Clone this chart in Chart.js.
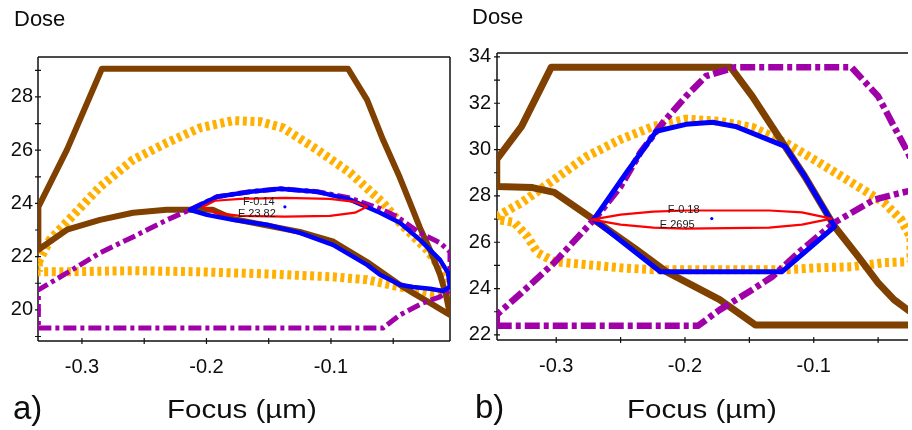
<!DOCTYPE html>
<html>
<head>
<meta charset="utf-8">
<script src="https://cdn.jsdelivr.net/npm/chart.js@4.4.1/dist/chart.umd.min.js"></script>
<style>
  html, body { margin: 0; padding: 0; background: #fff; width: 912px; height: 430px; overflow: hidden; position: relative; }
  canvas { position: absolute; top: 0; }
  .t { position: absolute; font-family: "Liberation Sans", Arial, sans-serif; color: #0e0e0e; white-space: nowrap; }
</style>
</head>
<body>
<canvas id="ca" width="460" height="430" style="left:0px;width:460px;height:430px"></canvas>
<canvas id="cb" width="457" height="430" style="left:455px;width:457px;height:430px"></canvas>
<div class="t" style="left:14px;top:8px;font-size:22px;line-height:22px">Dose</div>
<div class="t" style="left:472px;top:6px;font-size:22px;line-height:22px">Dose</div>
<div class="t" style="left:13px;top:391px;font-size:33px;line-height:33px">a)</div>
<div class="t" style="left:475px;top:390px;font-size:33px;line-height:33px">b)</div>
<div class="t" style="left:167px;top:397px;font-size:25px;line-height:25px;transform:scaleX(1.18);transform-origin:0 0">Focus (µm)</div>
<div class="t" style="left:627px;top:397px;font-size:25px;line-height:25px;transform:scaleX(1.18);transform-origin:0 0">Focus (µm)</div>
<script>
// ---------------- Panel a) ----------------
const xTicksA = [-0.3, -0.25, -0.2, -0.15, -0.1, -0.05];
const xLabelsA = [-0.3, -0.2, -0.1];
const yTicksA = [19, 20, 21, 22, 23, 24, 25, 26, 27, 28, 29];
const yLabelsA = [20, 22, 24, 26, 28];
const xRangeA = [-0.3353, -0.0044];
const yRangeA = [18.83, 29.5];

const brownA = [[-0.335,22.26],[-0.312,23.01],[-0.2855,23.38],[-0.259,23.65],[-0.232,23.76],[-0.195,23.76],[-0.179,23.42],[-0.125,22.93],[-0.098,22.56],[-0.071,21.80],[-0.0446,20.94],[-0.0342,20.64],[-0.0205,20.26],[-0.0044,19.81],[-0.0076,20.56],[-0.0124,21.32],[-0.0205,22.26],[-0.0285,23.08],[-0.0365,24.02],[-0.0446,24.96],[-0.0582,26.39],[-0.071,27.89],[-0.0863,29.06],[-0.284,29.06],[-0.312,26.02],[-0.335,23.87],[-0.335,22.26]];
const blueA = [[-0.2133,23.76],[-0.1916,24.25],[-0.165,24.44],[-0.141,24.55],[-0.1112,24.44],[-0.0847,24.14],[-0.0606,23.65],[-0.0446,23.27],[-0.0285,22.63],[-0.0124,21.88],[-0.006,21.39],[-0.0044,20.86],[-0.010,20.71],[-0.0205,20.79],[-0.0341,20.86],[-0.0446,20.94],[-0.0606,21.32],[-0.071,21.69],[-0.0984,22.44],[-0.125,22.89],[-0.1514,23.20],[-0.1787,23.38],[-0.1996,23.57],[-0.2133,23.76]];
const purpleA = [[-0.335,19.32],[-0.0582,19.32],[-0.0446,19.81],[-0.0261,20.26],[-0.0124,20.49],[-0.0044,20.75],[-0.0044,22.18],[-0.0124,22.52],[-0.0285,22.89],[-0.047,23.50],[-0.0606,23.80],[-0.0847,24.20],[-0.1112,24.44],[-0.141,24.55],[-0.165,24.44],[-0.1916,24.25],[-0.2133,23.76],[-0.2317,23.38],[-0.259,22.74],[-0.2855,22.14],[-0.312,21.39],[-0.335,20.75],[-0.335,19.32]];
const orangeA = [[-0.335,21.80],[-0.3257,22.63],[-0.312,23.31],[-0.2855,24.62],[-0.259,25.64],[-0.2317,26.28],[-0.2052,26.84],[-0.1787,27.11],[-0.157,27.07],[-0.1386,26.84],[-0.1112,26.02],[-0.0847,25.15],[-0.0582,24.02],[-0.0446,23.27],[-0.0229,22.26],[-0.0068,21.24],[-0.0044,20.64],[-0.018,20.64],[-0.0446,20.86],[-0.071,21.13],[-0.0984,21.24],[-0.1514,21.35],[-0.2052,21.43],[-0.259,21.47],[-0.312,21.43],[-0.335,21.43],[-0.335,21.80]];
const redA = [[-0.2028,23.87],[-0.1932,24.10],[-0.173,24.17],[-0.137,24.21],[-0.1008,24.17],[-0.0807,24.06],[-0.0711,23.87],[-0.0807,23.65],[-0.1008,23.53],[-0.137,23.50],[-0.173,23.53],[-0.1932,23.65],[-0.2028,23.87]];
const centerA = [-0.137, 23.87];
const labelsA = ['F-0.14', 'E 23.82'];

// ---------------- Panel b) ----------------
const xTicksB = [-0.3, -0.25, -0.2, -0.15, -0.1, -0.05];
const xLabelsB = [-0.3, -0.2, -0.1];
const yTicksB = [22, 23, 24, 25, 26, 27, 28, 29, 30, 31, 32, 33, 34];
const yLabelsB = [22, 24, 26, 28, 30, 32, 34];
const xRangeB = [-0.346, -0.0268];
const yRangeB = [21.78, 34.17];

const brownB = [[-0.3462,28.41],[-0.3185,28.36],[-0.3015,28.15],[-0.2708,26.98],[-0.2377,25.68],[-0.2146,24.73],[-0.1731,23.52],[-0.1454,22.43],[-0.0108,22.43],[-0.0269,23.08],[-0.0377,23.52],[-0.05,24.25],[-0.0654,25.38],[-0.0838,26.68],[-0.0885,27.11],[-0.1069,28.84],[-0.1223,30.14],[-0.1477,32.30],[-0.1646,33.56],[-0.3038,33.56],[-0.3269,31.00],[-0.3462,29.58],[-0.3462,28.41]];
const blueB = [[-0.2708,26.98],[-0.2454,29.01],[-0.2223,30.79],[-0.1992,31.09],[-0.1785,31.18],[-0.1608,31.0],[-0.1223,30.14],[-0.1069,28.84],[-0.0885,27.11],[-0.0838,26.68],[-0.1246,24.73],[-0.2192,24.73],[-0.2708,26.98]];
const purpleB = [[-0.3462,22.39],[-0.19,22.39],[-0.1731,23.08],[-0.1477,23.95],[-0.1323,24.51],[-0.1092,25.68],[-0.0838,26.85],[-0.0531,27.84],[-0.0377,28.06],[-0.0208,28.28],[-0.0192,28.93],[-0.0269,29.88],[-0.0377,31.0],[-0.05,32.30],[-0.0708,33.56],[-0.1608,33.56],[-0.1838,33.17],[-0.1992,32.30],[-0.2169,31.18],[-0.2346,29.88],[-0.25,28.41],[-0.2685,27.11],[-0.3015,25.12],[-0.3269,23.82],[-0.3462,22.87],[-0.3462,22.39]];
const orangeB = [[-0.3462,27.11],[-0.3269,27.71],[-0.3015,28.71],[-0.2762,29.71],[-0.25,30.44],[-0.2246,31.0],[-0.1992,31.31],[-0.1731,31.22],[-0.1477,30.96],[-0.1223,30.31],[-0.0962,29.45],[-0.0708,28.58],[-0.0454,27.71],[-0.0323,26.98],[-0.0245,26.20],[-0.0245,25.16],[-0.0454,25.12],[-0.0708,24.94],[-0.0962,24.90],[-0.1223,24.81],[-0.1731,24.81],[-0.2246,24.81],[-0.25,24.90],[-0.2762,25.03],[-0.3015,25.16],[-0.3146,25.55],[-0.3223,26.24],[-0.3323,26.85],[-0.3462,26.98],[-0.3462,27.11]];
const redB = [[-0.2723,26.98],[-0.25,27.19],[-0.2246,27.32],[-0.1992,27.37],[-0.1346,27.37],[-0.1092,27.29],[-0.0862,27.02],[-0.1092,26.76],[-0.1346,26.63],[-0.1992,26.59],[-0.2246,26.63],[-0.25,26.76],[-0.2723,26.98]];
const centerB = [-0.1792, 27.02];
const labelsB = ['F-0.18', 'E 2695'];

// ---------------- drawing ----------------
const FONT = '"Liberation Sans", Arial, sans-serif';
const COL = { brown: '#7f4000', blue: '#0000ff', red: '#ff0000', orange: '#ffb000', purple: '#a000a8' };

const framePlugin = {
  id: 'frame',
  beforeDatasetsDraw(chart, args, opts) {
    const { ctx, chartArea: a, scales } = chart;
    ctx.save();
    ctx.strokeStyle = '#111';
    ctx.lineWidth = 1.5;
    ctx.beginPath();
    if (opts.sides.includes('top')) { ctx.moveTo(a.left, a.top); ctx.lineTo(a.right, a.top); }
    if (opts.sides.includes('right')) { ctx.moveTo(a.right, a.top); ctx.lineTo(a.right, a.bottom); }
    if (opts.sides.includes('bottom')) { ctx.moveTo(a.left, a.bottom); ctx.lineTo(a.right, a.bottom); }
    if (opts.sides.includes('left')) { ctx.moveTo(a.left, a.top); ctx.lineTo(a.left, a.bottom); }
    ctx.stroke();
    ctx.lineWidth = 1.2;
    ctx.beginPath();
    scales.x.ticks.forEach(t => {
      const px = scales.x.getPixelForValue(t.value);
      ctx.moveTo(px, a.bottom - 3); ctx.lineTo(px, a.bottom + 3);
    });
    scales.y.ticks.forEach(t => {
      const py = scales.y.getPixelForValue(t.value);
      ctx.moveTo(a.left - 3, py); ctx.lineTo(a.left + 3, py);
    });
    ctx.stroke();
    ctx.restore();
  },
  afterDatasetsDraw(chart, args, opts) {
    const { ctx, scales } = chart;
    const cx = scales.x.getPixelForValue(opts.center[0]);
    const cy = scales.y.getPixelForValue(opts.center[1]);
    ctx.save();
    ctx.font = '11px ' + FONT;
    ctx.fillStyle = '#1a1a1a';
    ctx.textBaseline = 'middle';
    ctx.textAlign = 'left';
    ctx.fillText(opts.labels[0], cx + opts.off[0][0], cy + opts.off[0][1]);
    ctx.fillText(opts.labels[1], cx + opts.off[1][0], cy + opts.off[1][1]);
    ctx.restore();
  }
};

function pts(arr) { return arr.map(p => ({ x: p[0], y: p[1] })); }

function makePanel(id, d) {
  const ds = [
    { data: pts([d.center]), showLine: false, pointRadius: 1.6, pointBackgroundColor: COL.blue, pointBorderWidth: 0 },
    { data: pts(d.red), borderColor: COL.red, borderWidth: d.w.red },
    { data: pts(d.blue), borderColor: COL.blue, borderWidth: d.w.blue },
    { data: pts(d.purple), borderColor: COL.purple, borderWidth: d.w.purple, borderDash: d.w.purpleDash, borderCapStyle: 'butt' },
    { data: pts(d.brown), borderColor: COL.brown, borderWidth: d.w.brown },
    { data: pts(d.orange), borderColor: COL.orange, borderWidth: d.w.orange, borderDash: d.w.orangeDash, borderCapStyle: 'butt' }
  ].map(o => Object.assign({ showLine: true, fill: false, tension: 0, pointRadius: 0, borderJoinStyle: 'round', borderCapStyle: 'round' }, o));

  return new Chart(document.getElementById(id), {
    type: 'scatter',
    data: { datasets: ds },
    plugins: [framePlugin],
    options: {
      responsive: false,
      animation: false,
      events: [],
      layout: { padding: d.pad },
      plugins: {
        legend: { display: false },
        tooltip: { enabled: false },
        frame: { sides: d.sides, center: d.center, labels: d.labels, off: d.off }
      },
      scales: {
        x: {
          type: 'linear', min: d.xr[0], max: d.xr[1],
          grid: { display: false, drawTicks: false },
          border: { display: false },
          afterBuildTicks: s => { s.ticks = d.xt.map(v => ({ value: v })); },
          afterFit: s => { s.height = 40; },
          ticks: {
            autoSkip: false, maxRotation: 0, padding: 14,
            color: '#0e0e0e', font: { family: FONT, size: 20 },
            callback: v => d.xl.some(m => Math.abs(m - v) < 1e-6) ? v.toFixed(1) : ''
          }
        },
        y: {
          type: 'linear', min: d.yr[0], max: d.yr[1],
          grid: { display: false, drawTicks: false },
          border: { display: false },
          afterBuildTicks: s => { s.ticks = d.yt.map(v => ({ value: v })); },
          afterFit: s => { s.width = d.yw; },
          ticks: {
            autoSkip: false, padding: d.ypad,
            color: '#0e0e0e', font: { family: FONT, size: 20 },
            callback: v => d.yl.includes(v) ? String(v) : ''
          }
        }
      }
    }
  });
}

makePanel('ca', {
  brown: brownA, blue: blueA, purple: purpleA, orange: orangeA, red: redA,
  center: centerA, labels: labelsA, off: [[-42, -5], [-47, 7]],
  xt: xTicksA, xl: xLabelsA, yt: yTicksA, yl: yLabelsA, xr: xRangeA, yr: yRangeA,
  pad: { left: 0, right: 10, top: 57, bottom: 49 }, yw: 38, ypad: 5,
  sides: ['top', 'right', 'bottom', 'left'],
  w: { red: 2.2, blue: 4.5, purple: 5, purpleDash: [13, 4, 4, 4], brown: 6, orange: 9, orangeDash: [4, 3.6] }
});

makePanel('cb', {
  brown: brownB, blue: blueB, purple: purpleB, orange: orangeB, red: redB,
  center: centerB, labels: labelsB, off: [[-44, -9], [-52, 6]],
  xt: xTicksB, xl: xLabelsB, yt: yTicksB, yl: yLabelsB, xr: xRangeB, yr: yRangeB,
  pad: { left: 0, right: 0, top: 53, bottom: 50 }, yw: 42, ypad: 6,
  sides: ['top', 'bottom', 'left'],
  w: { red: 2.2, blue: 5, purple: 6.5, purpleDash: [15, 4, 5, 4], brown: 7, orange: 9, orangeDash: [4, 3.6] }
});
</script>
</body>
</html>
